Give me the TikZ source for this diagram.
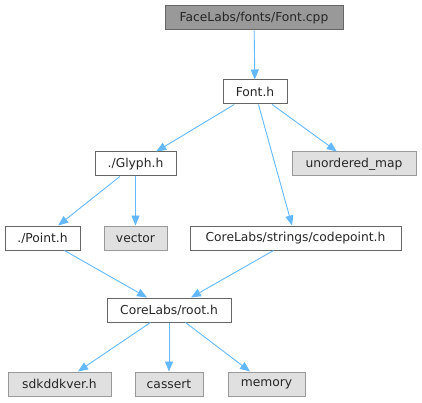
\documentclass[tikz,border=0pt]{standalone}
\usepackage{fontspec}
\setmainfont{DejaVu Sans}
\usetikzlibrary{arrows.meta}
\definecolor{edgecol}{HTML}{63B8FF}
\definecolor{rootfill}{HTML}{999999}
\definecolor{rootdraw}{HTML}{666666}
\definecolor{extfill}{HTML}{E0E0E0}
\definecolor{extdraw}{HTML}{999999}
\begin{document}
\begin{tikzpicture}[x=1pt,y=-1pt,
  box/.style={draw=rootdraw,line width=1pt,fill=white,inner sep=0pt,
    font=\fontsize{12.3}{14}\selectfont,text=black!85},
  rootbox/.style={box,fill=rootfill},
  extbox/.style={box,draw=extdraw,fill=extfill},
  edge/.style={draw=edgecol,line width=0.9pt,-{Triangle[length=10pt,width=8pt]}}]
\useasboundingbox (0,0) rectangle (422,403);
\newcommand{\bx}[7]{\node[#1,minimum width=#5-#4,minimum height=#7-#6] (#2) at ({(#4+#5)/2},{(#6+#7)/2}) {#3};}
\bx{rootbox}{cpp}{FaceLabs/fonts/Font.cpp}{165}{343}{6}{30}
\bx{box}{fonth}{Font.h}{223}{287}{80}{104}
\bx{box}{glyph}{./Glyph.h}{95}{176}{152}{176}
\bx{extbox}{umap}{unordered\_map}{292}{416}{152}{176}
\bx{box}{point}{./Point.h}{5}{80}{226}{250}
\bx{extbox}{vector}{vector}{104}{167}{226}{250}
\bx{box}{codept}{CoreLabs/strings/codepoint.h}{190}{401}{226}{250}
\bx{box}{root}{CoreLabs/root.h}{107}{231}{298}{322}
\bx{extbox}{sdk}{sdkddkver.h}{8}{111}{372}{396}
\bx{extbox}{cassert}{cassert}{135}{203}{372}{396}
\bx{extbox}{memory}{memory}{228}{305}{372}{396}
\draw[edge] (cpp) -- (fonth);
\draw[edge] (fonth) -- (glyph);
\draw[edge] (fonth) -- (codept);
\draw[edge] (fonth) -- (umap);
\draw[edge] (glyph) -- (point);
\draw[edge] (glyph) -- (vector);
\draw[edge] (point) -- (root);
\draw[edge] (codept) -- (root);
\draw[edge] (root) -- (sdk);
\draw[edge] (root) -- (cassert);
\draw[edge] (root) -- (memory);
\end{tikzpicture}
\end{document}
